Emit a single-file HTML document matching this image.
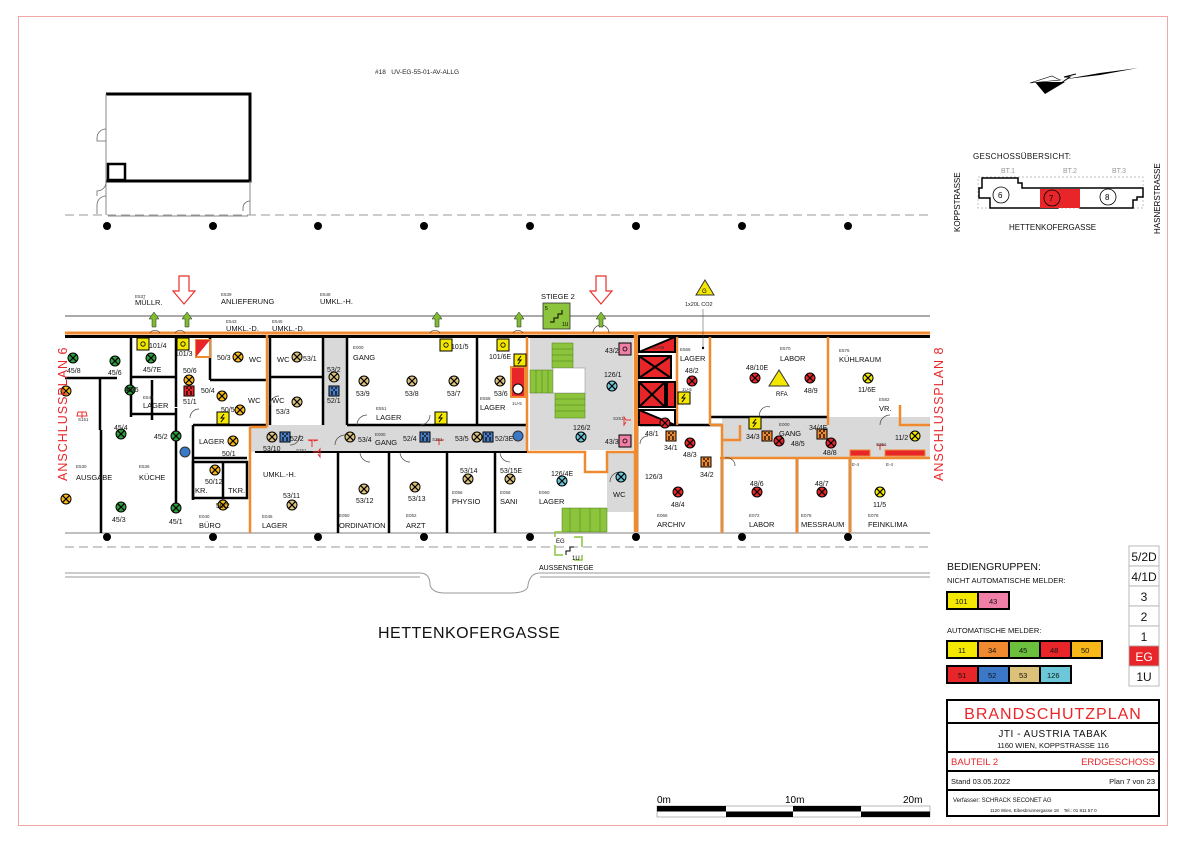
<!DOCTYPE html>
<html><head><meta charset="utf-8"><style>
html,body{margin:0;padding:0;background:#fff}
svg{display:block}
text{font-family:"Liberation Sans",sans-serif}
</style></head><body>
<svg width="1191" height="842" viewBox="0 0 1191 842" xmlns="http://www.w3.org/2000/svg">
<defs>
<g id="d"><circle r="5" stroke="#000" stroke-width="1"/><path d="M-3.3,-3.3L3.3,3.3M3.3,-3.3L-3.3,3.3" stroke="#000" stroke-width="1.2"/></g>
<g id="s"><rect x="-5" y="-5" width="10" height="10" stroke="#000" stroke-width="1"/><path d="M-3,-3h2M1,-3h2M-3,1h2M1,1h2M-1,-1h2M-3,3h2M1,3h2" stroke="#000" stroke-width="1.2"/></g>
<g id="y"><rect x="-6" y="-6" width="12" height="12" fill="#f5e800" stroke="#000" stroke-width="1"/><circle r="2.2" fill="none" stroke="#000" stroke-width="0.8"/></g>
<g id="p"><rect x="-6" y="-6" width="12" height="12" fill="#f07fa8" stroke="#000" stroke-width="1"/><circle r="2" fill="none" stroke="#000" stroke-width="0.8"/></g>
<g id="ua"><path d="M-2,0v-8h-3l5,-7l5,7h-3v8z" fill="#7dbd2e" stroke="#222" stroke-width="0.5"/></g>
<g id="da"><path d="M-5,0h10v15h6l-11,13l-11,-13h6z" fill="#fff" stroke="#e8302f" stroke-width="1.2"/></g>
<g id="fl"><rect x="-6" y="-6" width="12" height="12" fill="#f5e800" stroke="#000"/><path d="M1,-4l-3,4h3l-3,4" stroke="#000" fill="none"/></g>
</defs>
<rect x="18.5" y="16.5" width="1149" height="809" fill="none" stroke="#f2a7a7" stroke-width="1"/>
<text x="375" y="74" font-size="6.5" fill="#222">#18&#160;&#160;&#160;UV-EG-55-01-AV-ALLG</text>

<path d="M106,94H250V181H106" fill="none" stroke="#000" stroke-width="3"/>
<rect x="108" y="164" width="17" height="16" fill="none" stroke="#000" stroke-width="2.5"/>
<path d="M106,94V215M250,181V215M108,216H248" stroke="#888" stroke-width="1" fill="none"/>
<path d="M106,129a9,9 0 0 0 -9,9 v3h9M106,181a9,9 0 0 1 -9,10 v5M106,196a9,9 0 0 0 -9,9v9M250,201a7,7 0 0 0 -7,7v3" stroke="#666" fill="none" stroke-width="0.8"/>

<line x1="65" y1="215" x2="930" y2="215" stroke="#999" stroke-dasharray="9,5"/>
<g fill="#000"><circle cx="107" cy="226" r="4"/><circle cx="213" cy="226" r="4"/><circle cx="318" cy="226" r="4"/><circle cx="424" cy="226" r="4"/><circle cx="530" cy="226" r="4"/><circle cx="636" cy="226" r="4"/><circle cx="742" cy="226" r="4"/><circle cx="848" cy="226" r="4"/></g>
<line x1="65" y1="316" x2="930" y2="316" stroke="#aaa" stroke-width="2"/>
<line x1="65" y1="533" x2="930" y2="533" stroke="#aaa" stroke-width="1.5"/>
<g fill="#000"><circle cx="107" cy="537" r="4"/><circle cx="213" cy="537" r="4"/><circle cx="318" cy="537" r="4"/><circle cx="424" cy="537" r="4"/><circle cx="530" cy="537" r="4"/><circle cx="636" cy="537" r="4"/><circle cx="742" cy="537" r="4"/><circle cx="848" cy="537" r="4"/></g>
<line x1="65" y1="547" x2="930" y2="547" stroke="#999" stroke-dasharray="9,5"/>
<path d="M65,573H420Q430,573 430,585Q432,593 445,593H510Q528,593 528,585Q530,573 540,573H930M65,577H420M540,577H930" stroke="#999" fill="none" stroke-width="1"/>
<text x="378" y="638" font-size="16" fill="#111" letter-spacing="0.5">HETTENKOFERGASSE</text>

<g fill="#d9d9d9">
<rect x="323" y="337" width="24" height="88"/>
<rect x="250" y="425" width="277" height="27"/>
<rect x="530" y="337" width="103" height="113"/>
<rect x="722" y="417" width="208" height="41"/>
<rect x="607" y="452" width="28" height="60"/>
</g>
<g fill="#8cc43c" stroke="#4a7a18" stroke-width="0.5">
<rect x="552" y="343" width="21" height="25"/><rect x="530" y="370" width="23" height="23"/><rect x="555" y="393" width="30" height="25"/><path d="M562,508H607V532H562z"/>
</g>
<g stroke="#4a7a18" stroke-width="0.5"><path d="M552,349h21M552,355h21M552,361h21M536,370v23M542,370v23M548,370v23M555,399h30M555,405h30M555,411h30M570,508v24M580,508v24M590,508v24M600,508v24"/></g>
<rect x="553" y="368" width="32" height="25" fill="#fff" stroke="#888" stroke-width="0.5"/>

<line x1="65" y1="333" x2="930" y2="333" stroke="#f08a30" stroke-width="3"/>
<line x1="65" y1="336.5" x2="930" y2="336.5" stroke="#000" stroke-width="3"/>
<g stroke="#000" stroke-width="2.5" fill="none">
<path d="M65,378H117M131,337V417M131,377H176M132,414H175M176,337V407M176,408V503M193,425H267M193,425V500M193,458H247M210,337V380M210,380H267M270,337V425M270,377H323M323,337V425M347,337V425M347,425H527M477,337V425M338,453V533M389,453V533M447,453V533M495,453V533M100,378V430M101,430V533M152,380V420"/>
<rect x="193" y="462" width="54" height="36"/><path d="M223,462V498"/>
<path d="M710,417H828M640,425H722M637,337V532M722,458V532M797,458V532M850,458V532"/>
</g>
<g stroke="#f08a30" stroke-width="2.5" fill="none">
<path d="M267,335V427M250,427V533M250,427H267M527,337V452M527,452H585V472H607V452H635M635,333V532M637,333V532M677,337V425M710,337V425M828,337V425M900,405V425H930M722,425V533M797,458V533M850,458V533M720,458H930M710,425H722V440H740V425"/>
</g>
<line x1="347" y1="452" x2="527" y2="452" stroke="#000" stroke-width="2"/>
<line x1="255" y1="452" x2="347" y2="452" stroke="#000" stroke-width="2"/>
<g stroke="#000" stroke-width="2">
<path d="M639,337H675V352H639z" fill="#fff"/><path d="M639,352L675,337V352z" fill="#e8262a"/>
<rect x="639" y="356" width="32" height="22" fill="#e8262a"/><path d="M639,356L671,378M671,356L639,378" />
<rect x="639" y="382" width="26" height="25" fill="#e8262a"/><path d="M639,382L665,407M665,382L639,407"/>
<rect x="667" y="382" width="8" height="25" fill="#e8262a"/>
<path d="M639,410H675V425H639z" fill="#fff"/><path d="M639,410V425H675z" fill="#e8262a"/>
</g>
<path d="M196,340H210V357H196z" fill="#fff" stroke="#f08a30" stroke-width="2"/><path d="M196,340L210,340L196,357z" fill="#e8262a"/>
<rect x="511" y="367" width="14" height="30" fill="#e8262a" stroke="#f08a30" stroke-width="2"/><circle cx="518" cy="389" r="5" fill="#fff" stroke="#000"/>
<rect x="850" y="450" width="20" height="6" fill="#e8262a" stroke="#f08a30"/><rect x="885" y="450" width="40" height="6" fill="#e8262a" stroke="#f08a30"/>

<g stroke="#444" fill="none" stroke-width="0.7">
<path d="M335,445a10,10 0 0 1 10,-10M290,445a10,10 0 0 0 10,-10M357,425a10,10 0 0 1 10,-10M420,425a10,10 0 0 0 10,-10M360,452a10,10 0 0 0 10,10M400,452a10,10 0 0 0 10,10M500,452a10,10 0 0 0 10,10M150,333a6,6 0 0 1 10,0M175,333a6,6 0 0 1 10,0M430,333a6,6 0 0 1 10,0M513,333a6,6 0 0 1 10,0M593,333a8,8 0 0 1 16,0M190,418a9,9 0 0 1 9,-9M270,405a9,9 0 0 1 9,-9M760,417a8,8 0 0 1 10,-10M880,425a10,10 0 0 1 10,-10M725,458a8,8 0 0 1 10,8M640,444a8,8 0 0 1 8,-8M610,482a10,10 0 0 1 10,-10"/>
</g>

<use href="#ua" x="154" y="327"/><use href="#ua" x="187" y="327"/><use href="#ua" x="437" y="327"/><use href="#ua" x="519" y="327"/><use href="#ua" x="601" y="327"/>
<use href="#da" x="184" y="276"/><use href="#da" x="601" y="276"/>
<rect x="543" y="303" width="27" height="26" fill="#8cc43c" stroke="#333" stroke-width="0.8"/><path d="M550,322h4v-4h4v-4h4v-4" fill="none" stroke="#000"/>
<text x="541" y="299" font-size="7.5" fill="#111">STIEGE 2</text><text x="545" y="310" font-size="5">5</text><text x="562" y="326" font-size="5">1U</text>
<path d="M705,280l-9,15h18z" fill="#f5e800" stroke="#333"/><text x="702" y="293" font-size="6">G</text>
<text x="685" y="306" font-size="5.5" fill="#222">1x20L CO2</text><line x1="703" y1="309" x2="703" y2="347" stroke="#444" stroke-width="0.5"/><circle cx="703" cy="348" r="1.2"/>
<path d="M779,370l-10,16h20z" fill="#f5e800" stroke="#333"/><text x="776" y="396" font-size="6">RFA</text>

<path d="M555,537v-5h8M574,537h8v10M555,545v10h8M574,560h8v-5" stroke="#8cc43c" fill="none" stroke-width="1.5"/>
<text x="556" y="543" font-size="6">EG</text><text x="572" y="560" font-size="6">1U</text><path d="M566,555v-4h4v-4h4" stroke="#000" fill="none"/>
<text x="539" y="570" font-size="7">AUSSENSTIEGE</text>

<g fill="#2f9e3a"><use href="#d" x="73" y="358"/><use href="#d" x="115" y="361"/><use href="#d" x="151" y="358"/><use href="#d" x="130" y="390"/><use href="#d" x="121" y="434"/><use href="#d" x="176" y="436"/><use href="#d" x="121" y="507"/><use href="#d" x="176" y="508"/></g>
<g fill="#f8b81a"><use href="#d" x="189" y="380"/><use href="#d" x="238" y="357"/><use href="#d" x="222" y="396"/><use href="#d" x="240" y="410"/><use href="#d" x="233" y="441"/><use href="#d" x="215" y="470"/><use href="#d" x="223" y="505"/><use href="#d" x="66" y="391"/><use href="#d" x="66" y="499"/></g>
<g fill="#dcc17a"><use href="#d" x="297" y="357"/><use href="#d" x="334" y="377"/><use href="#d" x="297" y="402"/><use href="#d" x="272" y="437"/><use href="#d" x="292" y="505"/><use href="#d" x="364" y="381"/><use href="#d" x="412" y="381"/><use href="#d" x="454" y="381"/><use href="#d" x="500" y="381"/><use href="#d" x="350" y="437"/><use href="#d" x="477" y="437"/><use href="#d" x="364" y="489"/><use href="#d" x="415" y="487"/><use href="#d" x="468" y="479"/><use href="#d" x="510" y="479"/></g>
<g fill="#4a7fc8"><use href="#s" x="334" y="391"/><use href="#s" x="285" y="437"/><use href="#s" x="425" y="437"/><use href="#s" x="488" y="437"/></g>
<g fill="#e8262a"><use href="#s" x="189" y="391"/></g>
<g fill="#6cc8d8"><use href="#d" x="612" y="386"/><use href="#d" x="581" y="437"/><use href="#d" x="562" y="481"/><use href="#d" x="621" y="477"/></g>
<g fill="#e8262a"><use href="#d" x="692" y="381"/><use href="#d" x="755" y="378"/><use href="#d" x="810" y="378"/><use href="#d" x="665" y="423"/><use href="#d" x="690" y="443"/><use href="#d" x="779" y="441"/><use href="#d" x="831" y="443"/><use href="#d" x="678" y="492"/><use href="#d" x="757" y="492"/><use href="#d" x="822" y="492"/></g>
<g fill="#f08a30"><use href="#s" x="671" y="436"/><use href="#s" x="706" y="462"/><use href="#s" x="767" y="436"/><use href="#s" x="822" y="434"/></g>
<g fill="#f5e800"><use href="#d" x="868" y="378"/><use href="#d" x="915" y="436"/><use href="#d" x="880" y="492"/></g>
<circle cx="185" cy="452" r="5" fill="#3a78c8" stroke="#333"/><circle cx="518" cy="436" r="5" fill="#3a78c8" stroke="#333"/>
<use href="#y" x="143" y="344"/><use href="#y" x="183" y="344"/><use href="#y" x="446" y="345"/><use href="#y" x="503" y="345"/>
<use href="#p" x="625" y="349"/><use href="#p" x="625" y="441"/>
<use href="#fl" x="223" y="418"/><use href="#fl" x="441" y="418"/><use href="#fl" x="520" y="360"/><use href="#fl" x="684" y="398"/><use href="#fl" x="755" y="423"/>
<path d="M312,447v-6l-4,-1h10l-4,1" fill="none" stroke="#e8302f"/><path d="M439,445v-5h-3h8h-3" fill="none" stroke="#e8302f"/><path d="M880,450v-5h-3h8h-3" fill="none" stroke="#e8302f"/><path d="M82,418v-6h-4l-1,4h10l-1,-4h-4" fill="none" stroke="#e8302f"/><path d="M631,420h-5l-2,-3v8l2,-3" fill="none" stroke="#e8302f"/><path d="M313,452h5l2,-3v8l-2,-3" fill="none" stroke="#e8302f"/>

<g font-size="7" fill="#111">
<text x="67" y="373">45/8</text><text x="108" y="375">45/6</text><text x="143" y="372">45/7E</text><text x="125" y="392">45/5</text><text x="114" y="430">45/4</text><text x="154" y="439">45/2</text><text x="112" y="522">45/3</text><text x="169" y="524">45/1</text>
<text x="149" y="348">101/4</text><text x="175" y="356">101/3</text><text x="451" y="349">101/5</text><text x="489" y="359">101/6E</text>
<text x="183" y="373">50/6</text><text x="217" y="360">50/3</text><text x="201" y="393">50/4</text><text x="221" y="412">50/5</text><text x="222" y="456">50/1</text><text x="205" y="484">50/12</text><text x="216" y="508">50/2</text><text x="183" y="404">51/1</text>
<text x="303" y="361">53/1</text><text x="327" y="372">53/2</text><text x="327" y="403">52/1</text><text x="276" y="414">53/3</text><text x="290" y="441">52/2</text><text x="263" y="451">53/10</text><text x="283" y="498">53/11</text><text x="356" y="396">53/9</text><text x="405" y="396">53/8</text><text x="447" y="396">53/7</text><text x="494" y="396">53/6</text><text x="358" y="442">53/4</text><text x="403" y="441">52/4</text><text x="455" y="441">53/5</text><text x="495" y="441">52/3E</text><text x="356" y="503">53/12</text><text x="408" y="501">53/13</text><text x="460" y="473">53/14</text><text x="500" y="473">53/15E</text>
<text x="604" y="377">126/1</text><text x="573" y="430">126/2</text><text x="551" y="476">126/4E</text><text x="645" y="479">126/3</text>
<text x="605" y="353">43/2</text><text x="605" y="444">43/3</text>
<text x="685" y="373">48/2</text><text x="746" y="370">48/10E</text><text x="804" y="393">48/9</text><text x="645" y="436">48/1</text><text x="664" y="450">34/1</text><text x="683" y="457">48/3</text><text x="700" y="477">34/2</text><text x="746" y="439">34/3</text><text x="791" y="446">48/5</text><text x="809" y="430">34/4E</text><text x="823" y="455">48/8</text><text x="671" y="507">48/4</text><text x="750" y="486">48/6</text><text x="815" y="486">48/7</text>
<text x="858" y="392">11/6E</text><text x="895" y="440">11/2</text><text x="873" y="507">11/5</text>
</g>
<g font-size="7.5" fill="#111">
<text x="135" y="305">MÜLLR.</text><text x="221" y="304">ANLIEFERUNG</text><text x="320" y="304">UMKL.-H.</text><text x="226" y="331">UMKL.-D.</text><text x="272" y="331">UMKL.-D.</text>
<text x="143" y="408">LAGER</text><text x="76" y="480">AUSGABE</text><text x="139" y="480">KÜCHE</text><text x="199" y="444">LAGER</text><text x="195" y="493">KR.</text><text x="228" y="493">TKR.</text><text x="199" y="528">BÜRO</text><text x="262" y="528">LAGER</text><text x="263" y="477">UMKL.-H.</text>
<text x="249" y="362">WC</text><text x="277" y="362">WC</text><text x="248" y="403">WC</text><text x="272" y="403">WC</text>
<text x="353" y="360">GANG</text><text x="376" y="420">LAGER</text><text x="480" y="410">LAGER</text><text x="375" y="445">GANG</text><text x="339" y="528">ORDINATION</text><text x="406" y="528">ARZT</text><text x="452" y="504">PHYSIO</text><text x="500" y="504">SANI</text><text x="539" y="504">LAGER</text><text x="613" y="497">WC</text>
<text x="680" y="361">LAGER</text><text x="780" y="361">LABOR</text><text x="839" y="362">KÜHLRAUM</text><text x="879" y="411">VR.</text><text x="779" y="436">GANG</text><text x="657" y="527">ARCHIV</text><text x="749" y="527">LABOR</text><text x="801" y="527">MESSRAUM</text><text x="868" y="527">FEINKLIMA</text>
</g>
<g font-size="4.5" fill="#333">
<text x="135" y="298">E537</text><text x="221" y="296">E539</text><text x="320" y="296">E548</text><text x="226" y="323">E543</text><text x="272" y="323">E545</text><text x="143" y="399">E541</text><text x="76" y="468">E530</text><text x="139" y="468">E536</text><text x="353" y="349">E000</text><text x="376" y="410">E551</text><text x="480" y="400">E558</text><text x="375" y="436">E000</text><text x="339" y="517">E050</text><text x="406" y="517">E052</text><text x="452" y="494">E056</text><text x="500" y="494">E058</text><text x="539" y="494">E060</text><text x="680" y="351">E566</text><text x="780" y="350">E570</text><text x="839" y="352">E576</text><text x="879" y="401">E582</text><text x="779" y="426">E000</text><text x="657" y="517">E066</text><text x="749" y="517">E072</text><text x="801" y="517">E076</text><text x="868" y="517">E078</text><text x="199" y="518">E040</text><text x="262" y="518">E046</text><text x="78" y="421">S151</text><text x="296" y="452">S251</text><text x="432" y="441">S251</text><text x="613" y="420">S251</text><text x="876" y="446">S251</text><text x="852" y="466">E-4</text><text x="886" y="466">E-4</text><text x="682" y="391">1U-5</text><text x="512" y="405">1U-5</text><text x="652" y="349">1U-58</text>
</g>
<text font-size="12.5" fill="#e8262a" letter-spacing="1" transform="translate(67,481) rotate(-90)">ANSCHLUSSPLAN 6</text>
<text font-size="12.5" fill="#e8262a" letter-spacing="1" transform="translate(943,481) rotate(-90)">ANSCHLUSSPLAN 8</text>

<path d="M1030,83L1050,81L1100,75L1138,68L1100,73L1060,80z" fill="#000"/><path d="M1035,82l10,12l20,-12z" fill="#000"/><path d="M1030,83l30,-3l-8,-4z" fill="#fff" stroke="#000" stroke-width="0.6"/><path d="M1058,85l12,-8h-6l12,-3" fill="none" stroke="#000"/>

<text x="973" y="159" font-size="8" fill="#111" letter-spacing="0.3">GESCHOSSÜBERSICHT:</text>
<g font-size="7" fill="#999"><text x="1001" y="173">BT.1</text><text x="1063" y="173">BT.2</text><text x="1112" y="173">BT.3</text></g>
<rect x="978" y="177" width="165" height="31" fill="none" stroke="#aaa" stroke-dasharray="2,2" stroke-width="0.7"/>
<path d="M979,188H982V178H1018V183H1022V188H1143V197H1137V200H1133V208H1080L1077,205H1060L1058,208H990V198H979z" fill="#fff" stroke="#000" stroke-width="1.5"/>
<rect x="1040" y="189" width="40" height="19" fill="#e8262a"/>
<g fill="none" stroke="#000" stroke-width="0.8"><circle cx="1001" cy="195" r="8"/><circle cx="1052" cy="198" r="8"/><circle cx="1108" cy="197" r="8"/></g>
<g font-size="8"><text x="998" y="198">6</text><text x="1049" y="201">7</text><text x="1105" y="200">8</text></g>
<text x="1009" y="230" font-size="8" fill="#111">HETTENKOFERGASSE</text>
<text font-size="8" transform="translate(960,232) rotate(-90)">KOPPSTRASSE</text>
<text font-size="8" transform="translate(1160,234) rotate(-90)">HASNERSTRASSE</text>

<text x="947" y="570" font-size="10.5" fill="#111">BEDIENGRUPPEN:</text>
<text x="947" y="583" font-size="7.5" fill="#111">NICHT AUTOMATISCHE MELDER:</text>
<g stroke="#000" stroke-width="2" font-size="7"><rect x="947" y="592" width="31" height="17" fill="#f5e800"/><rect x="978" y="592" width="31" height="17" fill="#f07fa8"/>
<rect x="947" y="641" width="31" height="17" fill="#f5e800"/><rect x="978" y="641" width="31" height="17" fill="#f08a30"/><rect x="1009" y="641" width="31" height="17" fill="#6cbf3c"/><rect x="1040" y="641" width="31" height="17" fill="#e8262a"/><rect x="1071" y="641" width="31" height="17" fill="#f8b81a"/>
<rect x="947" y="666" width="31" height="17" fill="#e8262a"/><rect x="978" y="666" width="31" height="17" fill="#3c78c8"/><rect x="1009" y="666" width="31" height="17" fill="#dcc17a"/><rect x="1040" y="666" width="31" height="17" fill="#6cc8d8"/></g>
<g font-size="7.5" fill="#111"><text x="955" y="604">101</text><text x="989" y="604">43</text><text x="958" y="653">11</text><text x="988" y="653">34</text><text x="1019" y="653">45</text><text x="1050" y="653">48</text><text x="1081" y="653">50</text><text x="958" y="678">51</text><text x="988" y="678">52</text><text x="1019" y="678">53</text><text x="1047" y="678">126</text></g>
<text x="947" y="633" font-size="7.5" fill="#111">AUTOMATISCHE MELDER:</text>
<g stroke="#aaa" stroke-width="0.8" fill="#fff"><rect x="1129" y="546" width="30" height="20"/><rect x="1129" y="566" width="30" height="20"/><rect x="1129" y="586" width="30" height="20"/><rect x="1129" y="606" width="30" height="20"/><rect x="1129" y="626" width="30" height="20"/><rect x="1129" y="646" width="30" height="20" fill="#e8262a"/><rect x="1129" y="666" width="30" height="20"/></g>
<g font-size="12" fill="#111" text-anchor="middle"><text x="1144" y="561">5/2D</text><text x="1144" y="581">4/1D</text><text x="1144" y="601">3</text><text x="1144" y="621">2</text><text x="1144" y="641">1</text><text x="1144" y="661" fill="#fff">EG</text><text x="1144" y="681">1U</text></g>
<g fill="none" stroke="#000" stroke-width="2"><rect x="947" y="700" width="212" height="116"/><line x1="947" y1="723" x2="1159" y2="723"/><line x1="947" y1="752" x2="1159" y2="752"/><line x1="947" y1="771" x2="1159" y2="771"/><line x1="947" y1="790" x2="1159" y2="790"/></g>
<text x="1053" y="719" font-size="16" fill="#e8262a" text-anchor="middle" letter-spacing="1">BRANDSCHUTZPLAN</text>
<text x="1053" y="737" font-size="10" fill="#111" text-anchor="middle" letter-spacing="0.5">JTI - AUSTRIA TABAK</text>
<text x="1053" y="748" font-size="7.5" fill="#111" text-anchor="middle">1160 WIEN, KOPPSTRASSE 116</text>
<text x="951" y="765" font-size="9.5" fill="#e8262a">BAUTEIL 2</text><text x="1155" y="765" font-size="9.5" fill="#e8262a" text-anchor="end">ERDGESCHOSS</text>
<text x="951" y="784" font-size="7.5" fill="#111">Stand 03.05.2022</text><text x="1155" y="784" font-size="7.5" fill="#111" text-anchor="end">Plan 7 von 23</text>
<text x="953" y="802" font-size="6" fill="#111">Verfasser: SCHRACK SECONET AG</text>
<text x="990" y="812" font-size="4.5" fill="#111">1120 Wien, Eibesbrunnergasse 18&#160;&#160;&#160;&#160;Tel.: 01 811 57 0</text>
<text x="657" y="803" font-size="10">0m</text><text x="785" y="803" font-size="10">10m</text><text x="903" y="803" font-size="10">20m</text>
<rect x="657" y="806" width="273" height="11" fill="#fff" stroke="#888" stroke-width="0.6"/>
<g fill="#000"><rect x="657" y="806" width="69" height="5.5"/><rect x="793" y="806" width="68" height="5.5"/><rect x="726" y="811.5" width="67" height="5.5"/><rect x="861" y="811.5" width="69" height="5.5"/></g>
</svg>
</body></html>
